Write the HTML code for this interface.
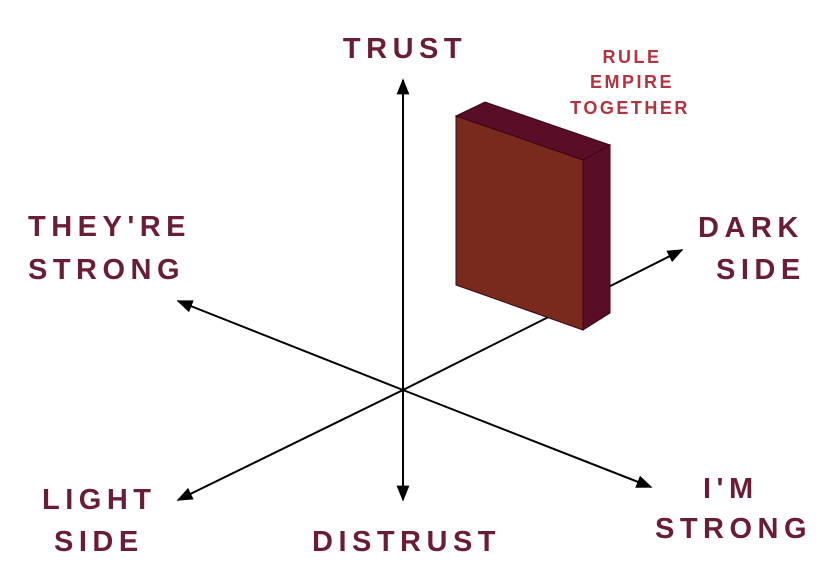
<!DOCTYPE html>
<html><head><style>
body{margin:0;background:#fff;}
svg{display:block}
.t{font-family:"Liberation Sans",sans-serif;font-weight:bold;fill:#6a1d38;font-size:29px;letter-spacing:5.5px}
.r{font-family:"Liberation Sans",sans-serif;font-weight:bold;fill:#b3333f;font-size:18px;letter-spacing:2.5px}
</style></head><body>
<svg width="840" height="588" viewBox="0 0 840 588">
<defs>
<marker id="b" viewBox="0 0 10 10" refX="9" refY="5" markerWidth="16" markerHeight="16" orient="auto-start-reverse" markerUnits="userSpaceOnUse"><path d="M0,1L10,5L0,9z" fill="#000"/></marker></defs>
<g stroke="#000" stroke-width="2" fill="none">
<line x1="403" y1="390" x2="403" y2="80" marker-end="url(#b)"/>
<line x1="403" y1="390" x2="403" y2="500" marker-end="url(#b)"/>
<line x1="403" y1="390" x2="178" y2="301" marker-end="url(#b)"/>
<line x1="403" y1="390" x2="178" y2="500" marker-end="url(#b)"/>
<line x1="403" y1="390" x2="651" y2="487" marker-end="url(#b)"/>
<line x1="403" y1="390" x2="682" y2="250" marker-end="url(#b)"/>
</g>
<polygon points="456,116 485,102 610,145 583,160" fill="#5a0d26" stroke="#3a0515" stroke-width="1"/>
<polygon points="583,160 610,145 610,313 583,330" fill="#5a0d26" stroke="#3a0515" stroke-width="1"/>
<polygon points="456,116 583,160 583,330 456,285" fill="#7a2a1d" stroke="#3a0515" stroke-width="1"/>
<text class="t" x="405" y="58" text-anchor="middle">TRUST</text>
<text class="t" x="28" y="236">THEY'RE</text>
<text class="t" x="28" y="279">STRONG</text>
<text class="t" x="698" y="237">DARK</text>
<text class="t" x="716" y="279">SIDE</text>
<text class="t" x="42" y="509">LIGHT</text>
<text class="t" x="54" y="551">SIDE</text>
<text class="t" x="312" y="551">DISTRUST</text>
<text class="t" x="703" y="498">I'M</text>
<text class="t" x="655" y="538">STRONG</text>
<text class="r" x="632" y="63" text-anchor="middle">RULE</text>
<text class="r" x="632" y="88" text-anchor="middle">EMPIRE</text>
<text class="r" x="630" y="114" text-anchor="middle">TOGETHER</text>
</svg>
</body></html>
